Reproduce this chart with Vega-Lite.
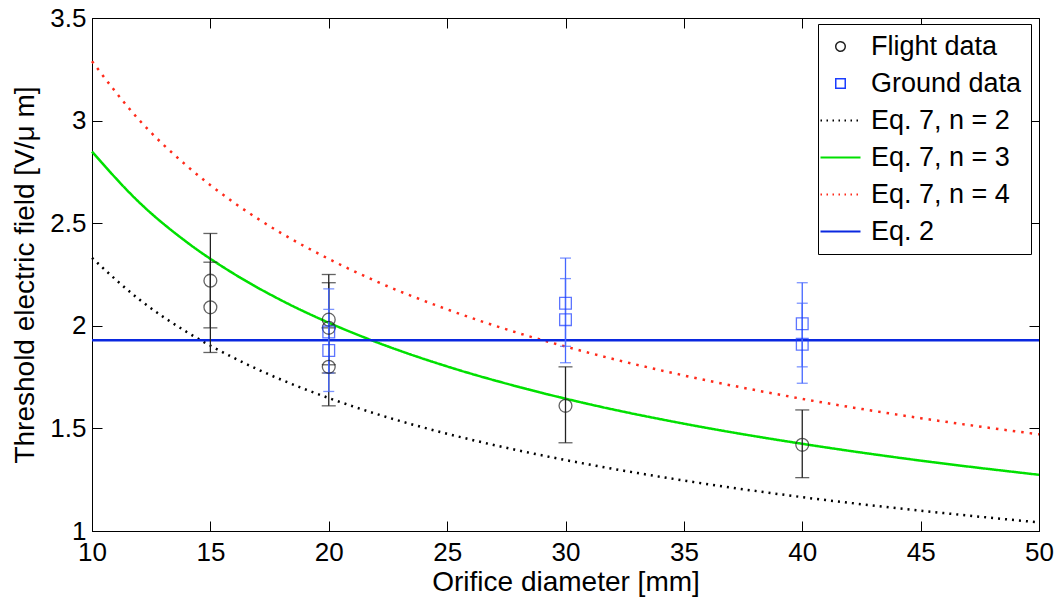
{
  "$schema": "https://vega.github.io/schema/vega-lite/v6.json",
  "width": 947,
  "height": 513,
  "autosize": "none",
  "padding": {"left": 92, "top": 18, "right": 17, "bottom": 72},
  "background": "white",
  "config": {
    "view": {"stroke": "black", "strokeWidth": 1},
    "font": "Liberation Sans",
    "axis": {"grid": false, "domainColor": "black", "tickColor": "black", "labelColor": "black", "titleColor": "black", "labelFont": "Liberation Sans", "titleFont": "Liberation Sans", "labelFontSize": 26, "titleFontSize": 28, "titleFontWeight": "normal", "tickSize": -10, "labelPadding": 16, "labelFlush": false, "labelOverlap": false}
  },
  "datasets": {
    "curves": [
      {"d": 10, "E": 2.331, "series": "Eq. 7, n = 2"}, {"d": 12, "E": 2.128, "series": "Eq. 7, n = 2"}, {"d": 14, "E": 1.970, "series": "Eq. 7, n = 2"}, {"d": 16, "E": 1.843, "series": "Eq. 7, n = 2"}, {"d": 18, "E": 1.737, "series": "Eq. 7, n = 2"}, {"d": 20, "E": 1.648, "series": "Eq. 7, n = 2"}, {"d": 22, "E": 1.571, "series": "Eq. 7, n = 2"}, {"d": 25, "E": 1.474, "series": "Eq. 7, n = 2"}, {"d": 28, "E": 1.393, "series": "Eq. 7, n = 2"}, {"d": 31, "E": 1.324, "series": "Eq. 7, n = 2"}, {"d": 35, "E": 1.246, "series": "Eq. 7, n = 2"}, {"d": 40, "E": 1.165, "series": "Eq. 7, n = 2"}, {"d": 45, "E": 1.099, "series": "Eq. 7, n = 2"}, {"d": 50, "E": 1.042, "series": "Eq. 7, n = 2"},
      {"d": 10, "E": 2.849, "series": "Eq. 7, n = 3"}, {"d": 12, "E": 2.601, "series": "Eq. 7, n = 3"}, {"d": 14, "E": 2.408, "series": "Eq. 7, n = 3"}, {"d": 16, "E": 2.253, "series": "Eq. 7, n = 3"}, {"d": 18, "E": 2.124, "series": "Eq. 7, n = 3"}, {"d": 20, "E": 2.015, "series": "Eq. 7, n = 3"}, {"d": 22, "E": 1.921, "series": "Eq. 7, n = 3"}, {"d": 25, "E": 1.802, "series": "Eq. 7, n = 3"}, {"d": 28, "E": 1.703, "series": "Eq. 7, n = 3"}, {"d": 31, "E": 1.618, "series": "Eq. 7, n = 3"}, {"d": 35, "E": 1.523, "series": "Eq. 7, n = 3"}, {"d": 40, "E": 1.425, "series": "Eq. 7, n = 3"}, {"d": 45, "E": 1.343, "series": "Eq. 7, n = 3"}, {"d": 50, "E": 1.274, "series": "Eq. 7, n = 3"},
      {"d": 10, "E": 3.289, "series": "Eq. 7, n = 4"}, {"d": 12, "E": 3.002, "series": "Eq. 7, n = 4"}, {"d": 14, "E": 2.780, "series": "Eq. 7, n = 4"}, {"d": 16, "E": 2.600, "series": "Eq. 7, n = 4"}, {"d": 18, "E": 2.451, "series": "Eq. 7, n = 4"}, {"d": 20, "E": 2.326, "series": "Eq. 7, n = 4"}, {"d": 22, "E": 2.217, "series": "Eq. 7, n = 4"}, {"d": 25, "E": 2.080, "series": "Eq. 7, n = 4"}, {"d": 28, "E": 1.965, "series": "Eq. 7, n = 4"}, {"d": 31, "E": 1.868, "series": "Eq. 7, n = 4"}, {"d": 35, "E": 1.758, "series": "Eq. 7, n = 4"}, {"d": 40, "E": 1.644, "series": "Eq. 7, n = 4"}, {"d": 45, "E": 1.550, "series": "Eq. 7, n = 4"}, {"d": 50, "E": 1.471, "series": "Eq. 7, n = 4"},
      {"d": 10, "E": 1.93, "series": "Eq. 2"}, {"d": 50, "E": 1.93, "series": "Eq. 2"}
    ],
    "flight": [
      {"d": 15, "E": 2.22, "lo": 1.99, "hi": 2.45, "series": "Flight data"},
      {"d": 15, "E": 2.09, "lo": 1.87, "hi": 2.31, "series": "Flight data"},
      {"d": 20, "E": 2.03, "lo": 1.81, "hi": 2.25, "series": "Flight data"},
      {"d": 20, "E": 1.99, "lo": 1.77, "hi": 2.21, "series": "Flight data"},
      {"d": 20, "E": 1.80, "lo": 1.61, "hi": 1.99, "series": "Flight data"},
      {"d": 30, "E": 1.61, "lo": 1.43, "hi": 1.80, "series": "Flight data"},
      {"d": 40, "E": 1.42, "lo": 1.26, "hi": 1.59, "series": "Flight data"}
    ],
    "ground": [
      {"d": 20, "E": 1.97, "lo": 1.77, "hi": 2.18, "series": "Ground data"},
      {"d": 20, "E": 1.88, "lo": 1.68, "hi": 2.08, "series": "Ground data"},
      {"d": 30, "E": 2.11, "lo": 1.90, "hi": 2.33, "series": "Ground data"},
      {"d": 30, "E": 2.03, "lo": 1.82, "hi": 2.23, "series": "Ground data"},
      {"d": 40, "E": 2.01, "lo": 1.80, "hi": 2.21, "series": "Ground data"},
      {"d": 40, "E": 1.91, "lo": 1.72, "hi": 2.11, "series": "Ground data"}
    ]
  },
  "resolve": {"axis": {"x": "independent", "y": "independent"}},
  "layer": [
    {
      "data": {"name": "curves"},
      "mark": {"type": "line", "strokeWidth": 2.5, "interpolate": "monotone"},
      "encoding": {
        "x": {"field": "d", "type": "quantitative", "scale": {"domain": [10, 50], "nice": false, "zero": false}, "axis": {"orient": "bottom", "title": "Orifice diameter [mm]", "values": [10, 15, 20, 25, 30, 35, 40, 45, 50], "labelExpr": "'' + datum.value", "labelPadding": 18, "titlePadding": 3}},
        "y": {"field": "E", "type": "quantitative", "scale": {"domain": [1, 3.5], "nice": false, "zero": false}, "axis": {"orient": "left", "title": "Threshold electric field [V/μ m]", "values": [1, 1.5, 2, 2.5, 3, 3.5], "labelExpr": "'' + datum.value", "titlePadding": 10, "encode": {"labels": {"update": {"dy": {"signal": "datum.value == 1 ? -4 : 0"}}}}}},
        "detail": {"field": "series"},
        "color": {
          "field": "series", "type": "nominal",
          "scale": {"domain": ["Flight data", "Ground data", "Eq. 7, n = 2", "Eq. 7, n = 3", "Eq. 7, n = 4", "Eq. 2"], "range": ["#222222", "#1a3cff", "#000000", "#00e000", "#ff2a1a", "#0a28e0"]},
          "legend": {
            "title": null, "orient": "none", "legendX": 726, "legendY": 6,
            "strokeColor": "black", "fillColor": "white", "padding": 9,
            "labelFont": "Liberation Sans", "labelFontSize": 27, "labelColor": "black",
            "symbolSize": 1600, "symbolStrokeWidth": 1.5, "labelOffset": 17, "rowPadding": 9,
            "encode": {
              "symbols": {"update": {
                "shape": {"signal": "datum.value == 'Flight data' ? 'circle' : datum.value == 'Ground data' ? 'square' : 'stroke'"},
                "size": {"signal": "datum.value == 'Flight data' || datum.value == 'Ground data' ? 90 : 1600"},
                "strokeDash": {"signal": "datum.value == 'Eq. 7, n = 2' || datum.value == 'Eq. 7, n = 4' ? [1.5, 4.5] : [1, 0]"},
                "fill": {"value": "transparent"},
                "stroke": {"scale": "color", "field": "value"},
                "strokeWidth": {"signal": "datum.value == 'Flight data' || datum.value == 'Ground data' ? 1.5 : 2"}
              }}
            }
          }
        },
        "strokeDash": {
          "field": "series", "type": "nominal",
          "scale": {"domain": ["Eq. 7, n = 2", "Eq. 7, n = 3", "Eq. 7, n = 4", "Eq. 2"], "range": [[2, 5], [1, 0], [2.5, 6], [1, 0]]},
          "legend": null
        }
      }
    },
    {
      "data": {"name": "flight"},
      "mark": {"type": "rule", "color": "#222222", "strokeWidth": 1.3},
      "encoding": {
        "x": {"field": "d", "type": "quantitative", "axis": null},
        "y": {"field": "lo", "type": "quantitative", "axis": null},
        "y2": {"field": "hi"}
      }
    },
    {
      "data": {"name": "flight"},
      "mark": {"type": "tick", "orient": "horizontal", "color": "#222222", "size": 14, "thickness": 1.3},
      "encoding": {
        "x": {"field": "d", "type": "quantitative", "axis": null},
        "y": {"field": "lo", "type": "quantitative", "axis": null}
      }
    },
    {
      "data": {"name": "flight"},
      "mark": {"type": "tick", "orient": "horizontal", "color": "#222222", "size": 14, "thickness": 1.3},
      "encoding": {
        "x": {"field": "d", "type": "quantitative", "axis": null},
        "y": {"field": "hi", "type": "quantitative", "axis": null}
      }
    },
    {
      "data": {"name": "ground"},
      "mark": {"type": "rule", "color": "#4466ff", "strokeWidth": 1.3},
      "encoding": {
        "x": {"field": "d", "type": "quantitative", "axis": null},
        "y": {"field": "lo", "type": "quantitative", "axis": null},
        "y2": {"field": "hi"}
      }
    },
    {
      "data": {"name": "ground"},
      "mark": {"type": "tick", "orient": "horizontal", "color": "#4466ff", "size": 11, "thickness": 1.3},
      "encoding": {
        "x": {"field": "d", "type": "quantitative", "axis": null},
        "y": {"field": "lo", "type": "quantitative", "axis": null}
      }
    },
    {
      "data": {"name": "ground"},
      "mark": {"type": "tick", "orient": "horizontal", "color": "#4466ff", "size": 11, "thickness": 1.3},
      "encoding": {
        "x": {"field": "d", "type": "quantitative", "axis": null},
        "y": {"field": "hi", "type": "quantitative", "axis": null}
      }
    },
    {
      "data": {"name": "flight"},
      "mark": {"type": "point", "shape": "circle", "filled": false, "size": 165, "strokeWidth": 1.3},
      "encoding": {
        "x": {"field": "d", "type": "quantitative", "axis": null},
        "y": {"field": "E", "type": "quantitative", "axis": null},
        "color": {"field": "series", "type": "nominal"}
      }
    },
    {
      "data": {"name": "ground"},
      "mark": {"type": "point", "shape": "square", "filled": false, "size": 137, "strokeWidth": 1.3},
      "encoding": {
        "x": {"field": "d", "type": "quantitative", "axis": null},
        "y": {"field": "E", "type": "quantitative", "axis": null},
        "color": {"field": "series", "type": "nominal"}
      }
    },
    {
      "data": {"name": "ground"},
      "mark": {"type": "point", "opacity": 0},
      "encoding": {
        "x": {"field": "d", "type": "quantitative", "axis": {"orient": "top", "title": null, "labels": false, "domain": false, "values": [10, 15, 20, 25, 30, 35, 40, 45, 50]}},
        "y": {"field": "E", "type": "quantitative", "axis": {"orient": "right", "title": null, "labels": false, "domain": false, "values": [1, 1.5, 2, 2.5, 3, 3.5]}}
      }
    }
  ]
}
